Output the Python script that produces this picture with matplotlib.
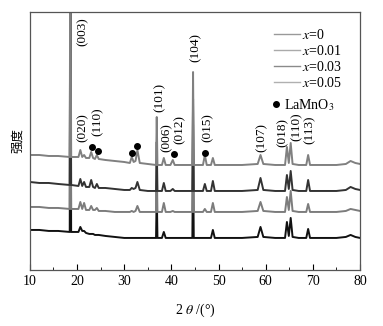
import matplotlib
matplotlib.use('Agg')
import matplotlib.pyplot as plt
from matplotlib.lines import Line2D

plt.rcParams['font.family'] = ['Liberation Serif', 'DejaVu Serif']
plt.rcParams['mathtext.fontset'] = 'stix'

# 2theta 取点
two_theta = [10, 12, 14, 16, 18.45, 18.6, 18.75, 20.3, 20.7, 21.1, 21.5, 21.9, 22.6, 23.0,
             23.4, 23.8, 24.2, 24.6, 26, 28, 30, 31.2, 31.6, 32.0, 32.4, 32.8, 33.3, 35,
             36.75, 36.9, 37.05, 38.0, 38.4, 38.8, 39.8, 40.3, 40.7, 42, 44.45, 44.6, 44.75,
             46.7, 47.1, 47.5, 48.4, 48.8, 49.2, 52, 55, 58.3, 58.9, 59.5, 62, 64.1, 64.5,
             64.9, 65.3, 65.7, 67, 68.6, 69.0, 69.4, 72, 75, 77, 78, 79, 80]

# 各样品强度 (a.u.)
int_x005 = [12, 12, 11, 11, 10, 300, 10, 10, 17, 10, 12, 9, 9, 15,
            9, 8, 12, 8, 7, 6, 5, 4, 10, 5, 6, 17, 4, 3,
            2, 50, 2, 2, 9, 2, 2, 7, 2, 2, 2, 95, 2,
            2, 12, 2, 2, 9, 2, 2, 2, 3, 12, 3, 2, 2, 20,
            4, 24, 3, 2, 2, 12, 2, 2, 2, 3, 6, 4, 3]
int_x003 = [10, 9, 9, 8, 7, 300, 7, 6, 13, 6, 10, 5, 5, 12,
            5, 4, 8, 4, 4, 3, 2, 2, 4, 3, 4, 10, 2, 1,
            1, 50, 1, 1, 9, 1, 1, 3, 1, 1, 1, 93, 1,
            1, 8, 1, 1, 11, 1, 1, 1, 2, 14, 2, 1, 1, 17,
            3, 21, 2, 1, 1, 12, 1, 1, 1, 2, 5, 3, 2]
int_x001 = [8, 8, 7, 7, 6, 300, 6, 6, 13, 6, 12, 5, 5, 9,
            5, 5, 7, 4, 4, 3, 3, 3, 4, 3, 4, 9, 3, 3,
            3, 50, 3, 3, 12, 3, 3, 4, 3, 3, 3, 90, 3,
            3, 6, 3, 3, 12, 3, 3, 3, 4, 13, 4, 3, 3, 18,
            5, 24, 4, 3, 3, 11, 3, 3, 3, 4, 6, 5, 4]
int_x0 = [10, 10, 9, 9, 8, 300, 8, 8, 13, 9, 9, 7, 6, 6,
          6, 5, 5, 5, 4, 3, 2, 2, 2, 2, 2, 2, 2, 2,
          2, 50, 2, 2, 8, 2, 2, 2, 2, 2, 2, 90, 2,
          2, 2, 2, 2, 10, 2, 2, 2, 3, 13, 3, 2, 2, 18,
          4, 22, 3, 2, 2, 11, 2, 2, 2, 3, 5, 3, 2]

labels = ['$x$=0', '$x$=0.01', '$x$=0.03', '$x$=0.05']

# LaMnO3 杂相位置
lamno3_tt = [23.2, 24.4, 31.6, 32.7, 40.5, 47.1]
lamno3_y = [123, 119, 117, 124, 116, 117]

# 晶面标注
hkl_text = ['(003)', '(020)', '(110)', '(101)', '(006)', '(012)', '(104)',
            '(015)', '(107)', '(018)', '(110)', '(113)']
hkl_tt = [21.2, 21.2, 24.4, 37.6, 39.1, 41.8, 45.2, 47.8, 59.2, 63.7, 66.6, 69.4]
hkl_y = [253, 157, 163, 187, 147, 155, 237, 157, 147, 152, 158, 155]

fig = plt.figure(figsize=(3.83, 3.26), dpi=100)
ax = fig.add_axes([0.078, 0.172, 0.862, 0.791])

# 叠加作图
offsets = [30, 55, 78, 103]
colors = ['#111111', '#7c7c7c', '#333333', '#808080']
for ys, off, c in zip([int_x0, int_x001, int_x003, int_x005], offsets, colors):
    ax.plot(two_theta, [v + off for v in ys], color=c, lw=1.4)

ax.plot(lamno3_tt, lamno3_y, 'o', color='black', ms=4, ls='none')

for t, xx, yy in zip(hkl_text, hkl_tt, hkl_y):
    ax.text(xx, yy, t, rotation=90, ha='center', va='top', fontsize=9.5)

ax.set_xlim(10, 80)
ax.set_ylim(0, 258)
ax.set_yticks([])
ax.set_xticks(range(10, 81, 10))
ax.set_xticks(range(15, 80, 10), minor=True)
ax.tick_params(axis='x', which='major', direction='in', length=4, labelsize=10)
ax.tick_params(axis='x', which='minor', direction='in', length=2)
for s in ax.spines.values():
    s.set_color('#555555')
    s.set_linewidth(0.9)

ax.set_xlabel('2 $\\theta$ /(°)', fontsize=10, labelpad=10)
ax.set_ylabel('强度', fontsize=9, family=['Noto Sans CJK SC'], labelpad=4)

# 图例
handles = [Line2D([], [], color=c, lw=1) for c in ['#999999', '#aaaaaa', '#8a8a8a', '#b0b0b0']]
leg = ax.legend(handles, labels, loc='upper left', bbox_to_anchor=(0.739, 0.94),
                frameon=False, fontsize=10, handlelength=1.9, handletextpad=0.1,
                labelspacing=0.15, borderpad=0, borderaxespad=0)
ax.add_artist(leg)
h2 = [Line2D([], [], color='black', marker='o', ms=4, ls='none')]
ax.legend(h2, ['LaMnO$_3$'], loc='upper left', bbox_to_anchor=(0.733, 0.67),
          frameon=False, fontsize=10, handlelength=0.6, handletextpad=0.3,
          borderpad=0, borderaxespad=0)

plt.savefig('out.png', dpi=100)
